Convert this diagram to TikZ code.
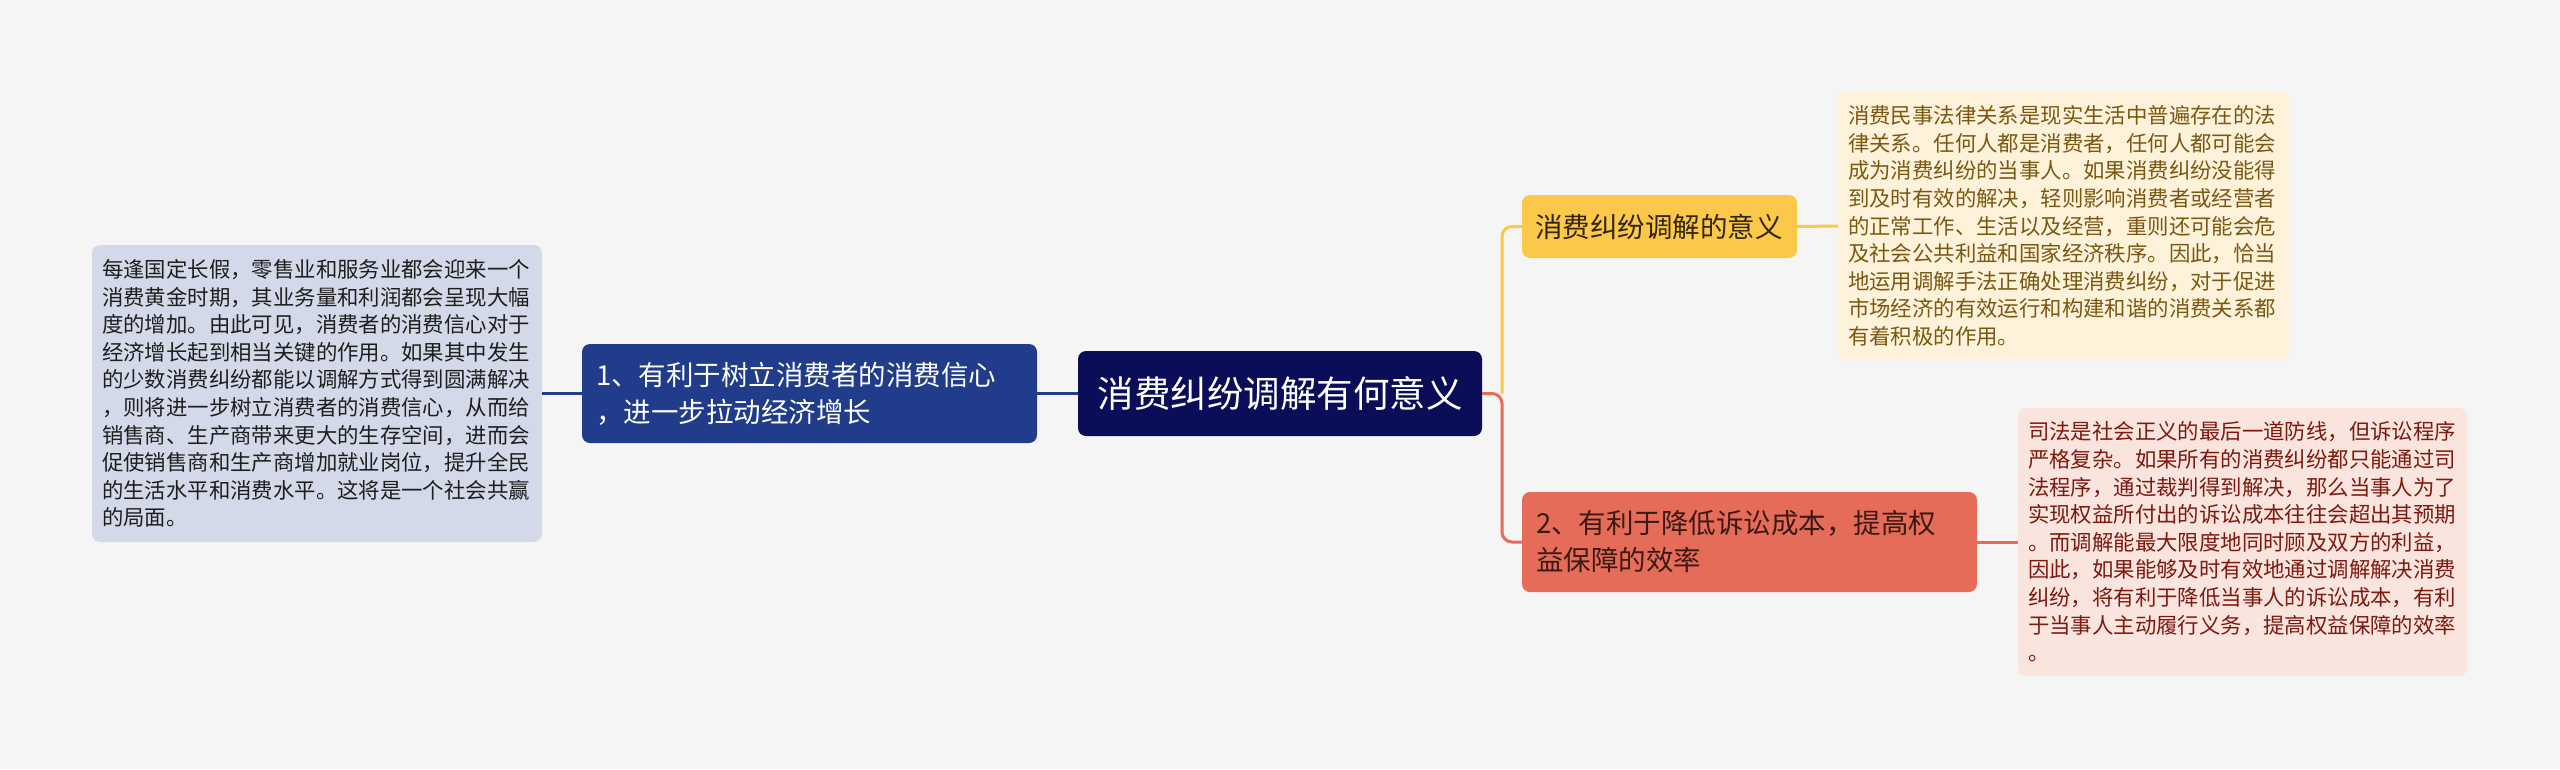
\documentclass[tikz,border=0pt]{standalone}
\usepackage{fontspec}
\setmainfont{Noto Sans CJK SC}
\definecolor{bgc}{RGB}{245,245,245}
\definecolor{navy}{RGB}{10,13,88}
\definecolor{blueN}{RGB}{32,60,138}
\definecolor{blueT}{RGB}{211,217,232}
\definecolor{blueTx}{RGB}{30,30,30}
\definecolor{yelN}{RGB}{252,200,74}
\definecolor{yelNx}{RGB}{50,38,10}
\definecolor{yelT}{RGB}{254,243,218}
\definecolor{yelTx}{RGB}{122,88,18}
\definecolor{redN}{RGB}{228,108,88}
\definecolor{redNx}{RGB}{60,25,20}
\definecolor{redT}{RGB}{250,228,222}
\definecolor{redTx}{RGB}{125,25,15}
\begin{document}
\begin{tikzpicture}[x=1pt,y=-1pt,
  box/.style={rounded corners=8pt, draw=none, inner ysep=2pt, align=left},
  main/.style={box, font=\fontsize{27.5}{37}\selectfont, inner xsep=14pt, text width=427pt, minimum height=99pt},
  desc/.style={box, font=\fontsize{21.4}{27.6}\selectfont, inner xsep=10pt, text width=430pt},
  link/.style={line width=3pt}]
\useasboundingbox (0,0) rectangle (2560,769);
\fill[bgc] (0,0) rectangle (2560,769);

\node[box, fill=navy, text=white, align=center, font=\fontsize{36.5}{44}\selectfont,
  minimum width=404pt, minimum height=85pt] (c) at (1280,393.5) {消费纠纷调解有何意义};

\node[main, fill=blueN, text=white] (b1) at (809.5,393.5)
  {1、有利于树立消费者的消费信心\\，进一步拉动经济增长};

\node[desc, fill=blueT, text=blueTx, minimum height=297pt] (t1) at (317,393.5)
  {每逢国定长假，零售业和服务业都会迎来一个\\
   消费黄金时期，其业务量和利润都会呈现大幅\\
   度的增加。由此可见，消费者的消费信心对于\\
   经济增长起到相当关键的作用。如果其中发生\\
   的少数消费纠纷都能以调解方式得到圆满解决\\
   ，则将进一步树立消费者的消费信心，从而给\\
   销售商、生产商带来更大的生存空间，进而会\\
   促使销售商和生产商增加就业岗位，提升全民\\
   的生活水平和消费水平。这将是一个社会共赢\\
   的局面。};

\node[box, fill=yelN, text=yelNx, font=\fontsize{27.5}{37}\selectfont, inner xsep=13pt,
  text width=249pt, minimum height=63pt] (y1) at (1659.5,226.5) {消费纠纷调解的意义};

\node[desc, fill=yelT, text=yelTx, minimum height=268pt, text width=431pt] (yt) at (2063.5,226)
  {消费民事法律关系是现实生活中普遍存在的法\\
   律关系。任何人都是消费者，任何人都可能会\\
   成为消费纠纷的当事人。如果消费纠纷没能得\\
   到及时有效的解决，轻则影响消费者或经营者\\
   的正常工作、生活以及经营，重则还可能会危\\
   及社会公共利益和国家经济秩序。因此，恰当\\
   地运用调解手法正确处理消费纠纷，对于促进\\
   市场经济的有效运行和构建和谐的消费关系都\\
   有着积极的作用。};

\node[main, fill=redN, text=redNx, minimum height=100pt] (r1) at (1749.5,542)
  {2、有利于降低诉讼成本，提高权\\益保障的效率};

\node[desc, fill=redT, text=redTx, minimum height=268pt, text width=429pt] (rt) at (2242.5,542)
  {司法是社会正义的最后一道防线，但诉讼程序\\
   严格复杂。如果所有的消费纠纷都只能通过司\\
   法程序，通过裁判得到解决，那么当事人为了\\
   实现权益所付出的诉讼成本往往会超出其预期\\
   。而调解能最大限度地同时顾及双方的利益，\\
   因此，如果能够及时有效地通过调解解决消费\\
   纠纷，将有利于降低当事人的诉讼成本，有利\\
   于当事人主动履行义务，提高权益保障的效率\\
   。};

\coordinate (fork) at (1502,393.5);

\draw[link, blueN] (c.west) -- (b1.east);
\draw[link, blueN] (b1.west) -- (t1.east);
\draw[link, yelN, rounded corners=10pt] (fork) |- (y1.west);
\draw[link, redN, rounded corners=10pt] (c.east) -- (fork) |- (r1.west);
\draw[link, yelN] (y1.east) -- (yt.west);
\draw[link, redN] (r1.east) -- (rt.west);
\end{tikzpicture}
\end{document}
